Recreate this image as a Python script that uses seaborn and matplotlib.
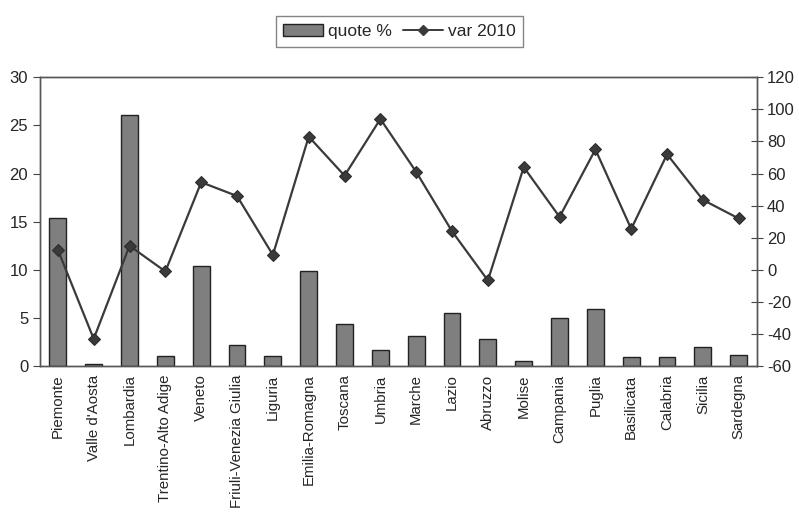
import numpy as np
import pandas as pd
import seaborn as sns
import matplotlib.pyplot as plt
from matplotlib.lines import Line2D
from matplotlib.patches import Patch

sns.set_style("white")
plt.rcParams['font.family'] = ['Liberation Sans', 'DejaVu Sans']
plt.rcParams['axes.unicode_minus'] = False

regions = ["Piemonte", "Valle d'Aosta", "Lombardia", "Trentino-Alto Adige",
           "Veneto", "Friuli-Venezia Giulia", "Liguria", "Emilia-Romagna",
           "Toscana", "Umbria", "Marche", "Lazio", "Abruzzo", "Molise",
           "Campania", "Puglia", "Basilicata", "Calabria", "Sicilia", "Sardegna"]
quote = [15.4, 0.2, 26.1, 1.1, 10.4, 2.2, 1.1, 9.9, 4.4, 1.7,
         3.1, 5.5, 2.8, 0.5, 5.0, 5.9, 1.0, 1.0, 2.0, 1.15]
var2010 = [12.5, -43, 15, -1, 54.6, 46, 9.3, 83, 58.7, 94,
           61, 24, -6.6, 64, 33, 75, 25.5, 72, 43.6, 32]

df = pd.DataFrame({"regione": regions, "quote": quote, "var": var2010})

fig = plt.figure(figsize=(7.99, 5.15), dpi=100)
ax = fig.add_axes([0.050, 0.289, 0.897, 0.561])

sns.barplot(data=df, x="regione", y="quote", ax=ax, color="#7f7f7f",
            saturation=1, width=0.47, edgecolor="#222222", linewidth=1.0)
ax.set_ylim(0, 30)
ax.set_yticks(range(0, 31, 5))
ax.set_xlim(-0.5, len(regions) - 0.5)
ax.set_xlabel("")
ax.set_ylabel("")
ax.set_xticks(np.arange(-0.5, len(regions), 1.0), minor=False)
ax.set_xticklabels([])
ax.set_xticks(range(len(regions)), minor=True)
ax.set_xticklabels(regions, minor=True, rotation=90, fontsize=10.8)
ax.tick_params(axis="x", which="major", direction="inout", length=8, color="#444444")
ax.tick_params(axis="x", which="minor", length=0, pad=6)
ax.tick_params(axis="y", direction="out", length=5, labelsize=12, color="#444444")

ax2 = ax.twinx()
sns.lineplot(x=np.arange(len(regions)), y=df["var"], ax=ax2, color="#3a3a3a",
             marker="D", markersize=6.5, linewidth=1.6, markeredgecolor="#2a2a2a")
ax2.set_ylim(-60, 120)
ax2.set_yticks(range(-60, 121, 20))
ax2.set_ylabel("")
ax2.tick_params(axis="y", direction="inout", length=8, labelsize=12, color="#444444")

for a in (ax, ax2):
    for s in a.spines.values():
        s.set_color("#555555")
        s.set_linewidth(1.0)
    a.grid(False)

handles = [Patch(facecolor="#7f7f7f", edgecolor="#222222", label="quote %"),
           Line2D([0], [0], color="#3a3a3a", marker="D", markersize=5,
                  linewidth=1.4, label="var 2010")]
fig.legend(handles=handles, loc="upper center", bbox_to_anchor=(0.5, 0.985),
           ncol=2, frameon=True, fancybox=False, edgecolor="#666666",
           fontsize=12.5, handlelength=2.3, columnspacing=0.6, handletextpad=0.3,
           borderpad=0.45)

fig.savefig("out.png", dpi=100)
